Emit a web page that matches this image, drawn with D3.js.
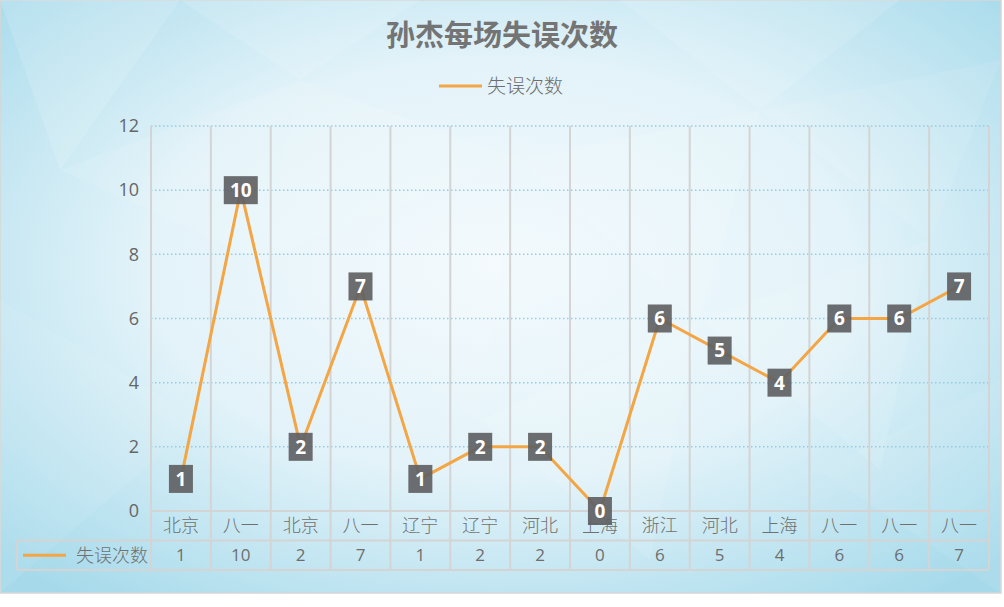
<!DOCTYPE html>
<html>
<head>
<meta charset="utf-8">
<script src="https://cdn.jsdelivr.net/npm/d3@7"></script>
<style>
  html, body { margin: 0; padding: 0; background: #ffffff; }
  svg { display: block; font-family: "Noto Sans CJK SC", "Open Sans", sans-serif; }
</style>
</head>
<body>
<svg id="chart" width="1004" height="607"></svg>
<script>
// --- data ---
const categories = ["北京", "八一", "北京", "八一", "辽宁", "辽宁", "河北", "上海", "浙江", "河北", "上海", "八一", "八一", "八一"];
const turnovers = [1, 10, 2, 7, 1, 2, 2, 0, 6, 5, 4, 6, 6, 7];
const yTicks = [0, 2, 4, 6, 8, 10, 12];
const seriesName = "失误次数";
const chartTitle = "孙杰每场失误次数";

const svg = d3.select("#chart");
const W = 1001, H = 593;
const plot = { left: 151, right: 989, top: 126, bottom: 511 };
const rowH = 29.5;

// --- background ---
const defs = svg.append("defs");
const grad = defs.append("radialGradient")
    .attr("id", "bg")
    .attr("cx", "50%").attr("cy", "45%").attr("r", "70%");
grad.append("stop").attr("offset", "0%").attr("stop-color", "#f3fafd");
grad.append("stop").attr("offset", "50%").attr("stop-color", "#e3f3f9");
grad.append("stop").attr("offset", "100%").attr("stop-color", "#a6daeb");

svg.append("rect")
    .attr("width", W).attr("height", H)
    .attr("fill", "url(#bg)")
    .attr("stroke", "#d6d6d6")
    .attr("stroke-width", 1.5);

// decorative low-poly facets
const facets = [
    [[0, 0], [180, 0], [60, 170]],
    [[180, 0], [420, 0], [300, 80]],
    [[60, 170], [300, 80], [260, 260]],
    [[620, 0], [900, 0], [760, 110]],
    [[760, 110], [1001, 60], [930, 240]],
    [[300, 80], [520, 160], [260, 260]],
    [[520, 160], [760, 110], [700, 320]],
    [[0, 300], [200, 420], [0, 593]],
    [[700, 320], [930, 240], [880, 470]],
    [[260, 260], [520, 160], [480, 420]],
    [[480, 420], [700, 320], [650, 560]],
    [[820, 470], [1001, 380], [1001, 593]]
];
const facetOp = [0.14, 0.12, 0.1, 0.12, 0.09, 0.12, 0.1, 0.08, 0.1, 0.08, 0.1, 0.07];
svg.append("g").selectAll("polygon")
    .data(facets)
    .join("polygon")
    .attr("points", d => d.map(p => p.join(",")).join(" "))
    .attr("fill", "#ffffff")
    .attr("opacity", (d, i) => facetOp[i]);

// --- scales ---
const x = d3.scaleBand()
    .domain(d3.range(categories.length))
    .range([plot.left, plot.right])
    .padding(0);

const y = d3.scaleLinear()
    .domain([0, 12])
    .range([plot.bottom, plot.top]);

// horizontal dotted gridlines
svg.append("g").selectAll("line")
    .data(yTicks.filter(t => t > 0))
    .join("line")
    .attr("x1", plot.left).attr("x2", plot.right)
    .attr("y1", d => y(d)).attr("y2", d => y(d))
    .attr("stroke", "#93cde3")
    .attr("stroke-width", 1.5)
    .attr("stroke-dasharray", "1.5,2.5");

// vertical category lines through plot + table
const tableBottom = plot.bottom + rowH * 2;
const bounds = d3.range(categories.length + 1).map(i =>
    i < categories.length ? x(i) : x(i - 1) + x.bandwidth());
svg.append("g").selectAll("line")
    .data(bounds)
    .join("line")
    .attr("x1", d => d).attr("x2", d => d)
    .attr("y1", plot.top).attr("y2", tableBottom)
    .attr("stroke", "#d4d4d4")
    .attr("stroke-width", 2);

// table horizontal lines
const tableLines = [
    { x1: plot.left, x2: plot.right, y: plot.bottom },
    { x1: 17, x2: plot.right, y: plot.bottom + rowH },
    { x1: 17, x2: plot.right, y: tableBottom }
];
svg.append("g").selectAll("line")
    .data(tableLines)
    .join("line")
    .attr("x1", d => d.x1).attr("x2", d => d.x2)
    .attr("y1", d => d.y).attr("y2", d => d.y)
    .attr("stroke", "#d4d4d4")
    .attr("stroke-width", 2);
svg.append("line")
    .attr("x1", 17).attr("x2", 17)
    .attr("y1", plot.bottom + rowH).attr("y2", tableBottom)
    .attr("stroke", "#d4d4d4").attr("stroke-width", 2);

// y axis labels
const yAxis = svg.append("g")
    .attr("transform", `translate(${plot.left - 12},0)`)
    .call(d3.axisLeft(y).tickValues(yTicks).tickSize(0).tickPadding(0));
yAxis.select(".domain").remove();
yAxis.selectAll("text")
    .attr("fill", "#666666")
    .attr("font-size", 18)
    .attr("font-family", "Open Sans, sans-serif");

// category row
svg.append("g").selectAll("text")
    .data(categories)
    .join("text")
    .attr("x", (d, i) => x(i) + x.bandwidth() / 2)
    .attr("y", plot.bottom + rowH / 2)
    .attr("dy", "0.36em")
    .attr("text-anchor", "middle")
    .attr("fill", "#707070")
    .attr("font-size", 18)
    .attr("font-weight", 300)
    .text(d => d);

// value row
svg.append("g").selectAll("text")
    .data(turnovers)
    .join("text")
    .attr("x", (d, i) => x(i) + x.bandwidth() / 2)
    .attr("y", plot.bottom + rowH * 1.5)
    .attr("dy", "0.36em")
    .attr("text-anchor", "middle")
    .attr("fill", "#6e6e6e")
    .attr("font-size", 17)
    .attr("font-family", "Open Sans, sans-serif")
    .text(d => d);

// table legend key
const keyY = plot.bottom + rowH * 1.5;
svg.append("line")
    .attr("x1", 23).attr("x2", 66)
    .attr("y1", keyY).attr("y2", keyY)
    .attr("stroke", "#f4a544").attr("stroke-width", 3);
svg.append("text")
    .attr("x", 148).attr("y", keyY).attr("dy", "0.36em")
    .attr("text-anchor", "end")
    .attr("fill", "#707070")
    .attr("font-size", 18)
    .attr("font-weight", 300)
    .text(seriesName);

// --- series line ---
const line = d3.line()
    .x((d, i) => x(i) + x.bandwidth() / 2)
    .y(d => y(d));
svg.append("path")
    .datum(turnovers)
    .attr("d", line)
    .attr("fill", "none")
    .attr("stroke", "#f4a544")
    .attr("stroke-width", 3)
    .attr("stroke-linejoin", "round");

// data labels
const labels = svg.append("g").selectAll("g")
    .data(turnovers)
    .join("g")
    .attr("transform", (d, i) => `translate(${x(i) + x.bandwidth() / 2},${y(d)})`);
labels.append("rect")
    .attr("x", d => String(d).length > 1 ? -17 : -12)
    .attr("y", -14)
    .attr("width", d => String(d).length > 1 ? 34 : 24)
    .attr("height", 28)
    .attr("fill", "#5f6163")
    .attr("opacity", 0.92);
labels.append("text")
    .attr("text-anchor", "middle")
    .attr("dy", "0.36em")
    .attr("fill", "#ffffff")
    .attr("font-weight", "bold")
    .attr("font-size", 19)
    .attr("font-family", "Open Sans, sans-serif")
    .text(d => d);

// --- title & legend ---
svg.append("text")
    .attr("x", 502).attr("y", 36)
    .attr("dy", "0.36em")
    .attr("text-anchor", "middle")
    .attr("fill", "#747474")
    .attr("font-size", 29)
    .attr("font-weight", "bold")
    .text(chartTitle);

svg.append("line")
    .attr("x1", 439).attr("x2", 482)
    .attr("y1", 86).attr("y2", 86)
    .attr("stroke", "#f4a544").attr("stroke-width", 3);
svg.append("text")
    .attr("x", 487).attr("y", 86)
    .attr("dy", "0.36em")
    .attr("fill", "#6e6e6e")
    .attr("font-size", 19)
    .attr("font-weight", 300)
    .text(seriesName);
</script>
</body>
</html>
